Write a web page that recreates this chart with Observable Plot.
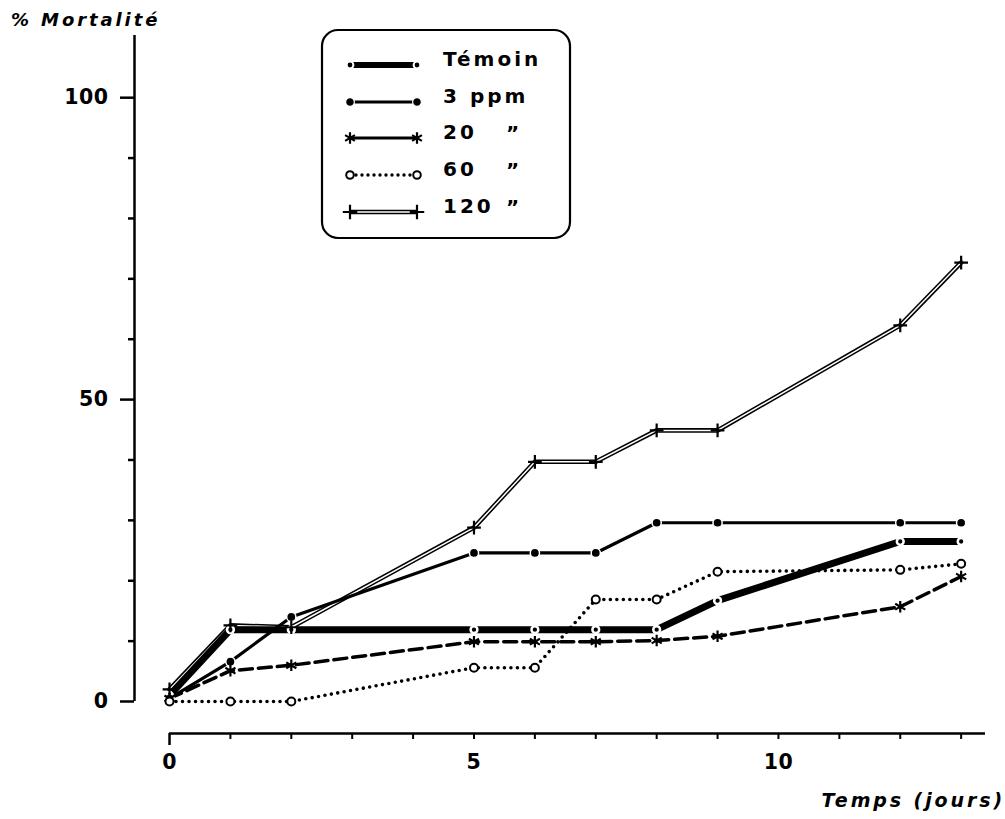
<!DOCTYPE html>
<html>
<head>
<meta charset="utf-8">
<script src="https://cdn.jsdelivr.net/npm/d3@7"></script>
<script src="https://cdn.jsdelivr.net/npm/@observablehq/plot@0.6"></script>
<style>
  body { margin: 0; background: #fff; }
  #wrap { position: relative; width: 1005px; height: 819px; }
  #wrap svg text { font-family: "DejaVu Sans", "Liberation Sans", sans-serif; font-weight: bold; fill: #000; }
  #overlay { position: absolute; left: 0; top: 0; pointer-events: none; }
  #overlay .title { font-style: italic; letter-spacing: 2.9px; }
  #overlay .leg { font-size: 20px; letter-spacing: 3px; }
</style>
</head>
<body>
<div id="wrap"></div>
<script>
// Mortality (%) over time (days) for the control and four concentrations
const days    = [0, 1, 2, 5, 6, 7, 8, 9, 12, 13];
const temoin  = [1, 11.9, 11.9, 11.9, 11.9, 11.9, 11.9, 16.7, 26.5, 26.5];
const ppm3    = [0.5, 6.6, 14, 24.6, 24.6, 24.6, 29.6, 29.6, 29.6, 29.6];
const ppm20   = [0.5, 5.1, 6, 9.9, 9.9, 9.9, 10.1, 10.8, 15.7, 20.7];
const ppm60   = [0, 0, 0, 5.6, 5.6, 16.9, 16.9, 21.5, 21.8, 22.8];
const ppm120  = [2, 12.6, 12.3, 28.8, 39.7, 39.7, 44.9, 44.9, 62.3, 72.7];

const legendLabels = ["Témoin", "3 ppm", "20", "60", "120"];
const dittoRows = [2, 3, 4];
const ditto   = "\u201D";
const xTicks  = d3.range(1, 14);
const xLabels = [0, 5, 10];
const yMajor  = [0, 50, 100];
const yMinor  = [10, 20, 30, 40, 60, 70, 80, 90];
const yTitle  = "% Mortalité";
const xTitle  = "Temps (jours)";

// scale extents: the axes sit slightly outside the data origin
const X_MIN = -0.575, X_MAX = 13.4;
const Y_MIN = -5.3,  Y_MAX = 110.3;

const rowsOf = v => days.map((d, i) => ({day: d, pct: v[i]}));
const T = rowsOf(temoin), P3 = rowsOf(ppm3), P20 = rowsOf(ppm20), P60 = rowsOf(ppm60), P120 = rowsOf(ppm120);
const xy = {x: "day", y: "pct"};

const chart = Plot.plot({
  width: 1005,
  height: 819,
  marginLeft: 134,
  marginRight: 20,
  marginTop: 35,
  marginBottom: 86,
  x: {domain: [X_MIN, X_MAX]},
  y: {domain: [Y_MIN, Y_MAX]},
  style: {background: "white", color: "black", overflow: "visible"},
  marks: [
    // axis lines
    Plot.ruleX([X_MIN], {y1: 0, y2: Y_MAX, stroke: "black", strokeWidth: 2.5}),
    Plot.ruleY([Y_MIN], {x1: 0, x2: X_MAX, stroke: "black", strokeWidth: 2.5}),
    // y ticks
    Plot.axisY(yMinor, {tickSize: 6, tickFormat: () => "", strokeWidth: 2.5, label: null}),
    Plot.axisY(yMajor, {tickSize: 14, tickPadding: 12, strokeWidth: 2.5, label: null}),
    // x ticks
    Plot.axisX([0], {tickSize: 12, tickFormat: () => "", strokeWidth: 2.5, label: null}),
    Plot.axisX(xTicks, {tickSize: 6, tickFormat: () => "", strokeWidth: 2, label: null}),
    Plot.axisX(xLabels, {tickSize: 0, tickPadding: 21, label: null}),

    // 120 ppm: double line
    Plot.line(P120, {...xy, stroke: "black", strokeWidth: 4.6}),
    Plot.line(P120, {...xy, stroke: "white", strokeWidth: 1.5}),
    // Témoin: heavy line
    Plot.line(T, {...xy, stroke: "black", strokeWidth: 7}),
    // 3 ppm: solid line
    Plot.line(P3, {...xy, stroke: "black", strokeWidth: 3.2}),
    // 20 ppm: dashed line
    Plot.line(P20, {...xy, stroke: "black", strokeWidth: 3.5, strokeDasharray: "13,6"}),
    // 60 ppm: dotted line
    Plot.line(P60, {...xy, stroke: "black", strokeWidth: 3.6, strokeDasharray: "0,6.5", strokeLinecap: "round"}),

    // markers
    Plot.dot(T,   {...xy, r: 3.4, fill: "black", stroke: "white", strokeWidth: 2.5}),
    Plot.dot(P3,  {...xy, r: 4.6, fill: "black", stroke: "white", strokeWidth: 1.5}),
    Plot.dot(P20, {...xy, symbol: "asterisk", r: 5.5, stroke: "black", strokeWidth: 2.2}),
    Plot.dot(P60, {...xy, r: 4, fill: "white", stroke: "black", strokeWidth: 2}),
    Plot.dot(P120,{...xy, symbol: "plus", r: 4.5, stroke: "black", strokeWidth: 2.2})
  ]
});
// tick labels: large heavy digits
d3.select(chart).selectAll("text")
  .style("font-size", "20.5px")
  .style("letter-spacing", "0.5px");
document.getElementById("wrap").appendChild(chart);

// overlay: axis titles and legend box
const ov = d3.select("#wrap").append("svg")
  .attr("id", "overlay").attr("width", 1005).attr("height", 819);

ov.append("text").attr("class", "title").attr("x", 11).attr("y", 26)
  .attr("font-size", 18).text(yTitle);
ov.append("text").attr("class", "title").attr("x", 1005).attr("y", 807).attr("text-anchor", "end")
  .attr("font-size", 19).text(xTitle);

const lg = ov.append("g").attr("transform", "translate(320,28)");
lg.append("rect").attr("x", 2).attr("y", 2).attr("width", 248).attr("height", 208)
  .attr("rx", 16).attr("fill", "white").attr("stroke", "black").attr("stroke-width", 2.2);

const rowY = [37, 74, 110, 147, 184];
const sx1 = 30, sx2 = 97;
const seg = (y, attrs) => {
  const l = lg.append("line").attr("x1", sx1).attr("x2", sx2).attr("y1", y).attr("y2", y).attr("stroke", "black");
  for (const k in attrs) l.attr(k, attrs[k]);
};
const sym = (type, size, y, attrs) => {
  for (const x of [sx1, sx2]) {
    const p = lg.append("path").attr("d", d3.symbol(type, size)()).attr("transform", `translate(${x},${y})`);
    for (const k in attrs) p.attr(k, attrs[k]);
  }
};
// Témoin
seg(rowY[0], {"stroke-width": 6});
sym(d3.symbolCircle, 36, rowY[0], {fill: "black", stroke: "white", "stroke-width": 2});
// 3 ppm
seg(rowY[1], {"stroke-width": 3});
sym(d3.symbolCircle, 60, rowY[1], {fill: "black", stroke: "white", "stroke-width": 1.2});
// 20 ppm
seg(rowY[2], {"stroke-width": 3});
sym(d3.symbolAsterisk, 90, rowY[2], {fill: "none", stroke: "black", "stroke-width": 2.2});
// 60 ppm
seg(rowY[3], {"stroke-width": 3.4, "stroke-dasharray": "0,6", "stroke-linecap": "round"});
sym(d3.symbolCircle, 45, rowY[3], {fill: "white", stroke: "black", "stroke-width": 2});
// 120 ppm
seg(rowY[4], {"stroke-width": 4.6});
seg(rowY[4], {"stroke-width": 1.4, stroke: "white"});
sym(d3.symbolPlus, 70, rowY[4], {fill: "none", stroke: "black", "stroke-width": 2.2});

legendLabels.forEach((t, i) => {
  lg.append("text").attr("class", "leg").attr("x", 123).attr("y", rowY[i] + 1).text(t);
});
dittoRows.forEach(i => {
  lg.append("text").attr("class", "leg").attr("x", 186).attr("y", rowY[i] + 2).text(ditto);
});
</script>
</body>
</html>
